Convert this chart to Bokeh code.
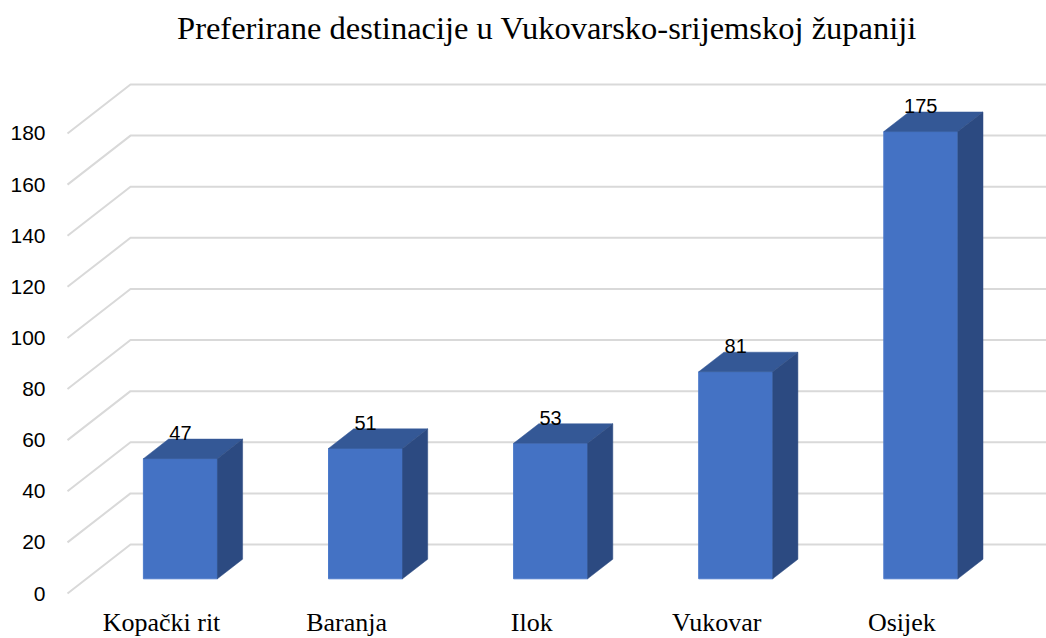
from bokeh.plotting import figure
from bokeh.models import Range1d
from bokeh.core.properties import value
from bokeh.embed import file_html
from bokeh.resources import INLINE

# ---- data ----
categories = ["Kopački rit", "Baranja", "Ilok", "Vukovar", "Osijek"]
counts = [47, 51, 53, 81, 175]
y_ticks = [0, 20, 40, 60, 80, 100, 120, 140, 160, 180]
title_text = "Preferirane destinacije u Vukovarsko-srijemskoj županiji"

# ---- layout (canvas pixels -> data units) ----
PX_X = 185.1          # px per category unit
PX_Y = 2.5556         # px per value unit
X0_PX, Y0_PX = 161, 593   # canvas position of category 0 / value 0 (front plane)
W, H = 1046, 638

def xd(px):
    return (px - X0_PX) / PX_X

def yd(px):
    return (Y0_PX - px) / PX_Y

D = 63 / PX_X         # depth shift in x (full depth)
DV = 49 / PX_Y        # depth shift in y (full depth)
FRONT, BACK = 0.30, 0.70   # bar depth fraction
HW = 37 / PX_X        # half bar width

x_start, x_end = xd(0), xd(W)
y_start, y_end = yd(H), yd(0)
grid_x0 = xd(67)

p = figure(width=W, height=H, x_range=Range1d(x_start, x_end),
           y_range=Range1d(y_start, y_end), output_backend="svg",
           toolbar_location=None, min_border=0, outline_line_color=None,
           background_fill_color="white", border_fill_color="white")
p.xgrid.visible = False
p.ygrid.visible = False
p.axis.visible = False

# title
p.text(x=[xd(546.5)], y=[yd(27)], text=[title_text], text_align="center",
       text_baseline="middle", text_font=value("Liberation Serif"),
       text_font_size="32.5px", text_color="black")

# grid: floor diagonal + back wall line
gx, gy = [], []
for v in y_ticks:
    gx.append([grid_x0, grid_x0 + D, x_end])
    gy.append([v, v + DV, v + DV])
p.multi_line(gx, gy, line_color="#D9D9D9", line_width=2)

# y tick labels
p.text(x=[xd(45)] * len(y_ticks), y=y_ticks, text=[str(v) for v in y_ticks],
       text_align="right", text_baseline="middle",
       text_font=value("Liberation Sans"), text_font_size="21px", text_color="black")

# category labels
p.text(x=list(range(len(categories))), y=[yd(622)] * len(categories), text=categories,
       text_align="center", text_baseline="middle",
       text_font=value("Liberation Serif"), text_font_size="26px", text_color="black")

# bars
fx = [i + FRONT * D for i in range(len(counts))]
v0 = FRONT * DV
dx = (BACK - FRONT) * D
dv = (BACK - FRONT) * DV

p.quad(left=[x - HW for x in fx], right=[x + HW for x in fx],
       bottom=[v0] * len(counts), top=[v0 + c for c in counts],
       fill_color="#4472C4", line_color="#4D7BCB", line_width=1)

top_xs, top_ys, side_xs, side_ys = [], [], [], []
for x, c in zip(fx, counts):
    t = v0 + c
    top_xs.append([x - HW, x + HW, x + HW + dx, x - HW + dx])
    top_ys.append([t, t, t + dv, t + dv])
    side_xs.append([x + HW, x + HW + dx, x + HW + dx, x + HW])
    side_ys.append([v0, v0 + dv, t + dv, t])
p.patches(top_xs, top_ys, fill_color="#345896", line_color="#345896", line_width=0.5)
p.patches(side_xs, side_ys, fill_color="#2C4A81", line_color="#2C4A81", line_width=0.5)

# data labels (centred just above the back edge of each bar top)
LABEL_LIFT = 6 / PX_Y
p.text(x=fx, y=[v0 + c + dv + LABEL_LIFT for c in counts], text=[str(c) for c in counts],
       text_align="center", text_baseline="middle",
       text_font=value("Liberation Sans"), text_font_size="20px", text_color="black")

open("out.html", "w").write(file_html(p, INLINE))
